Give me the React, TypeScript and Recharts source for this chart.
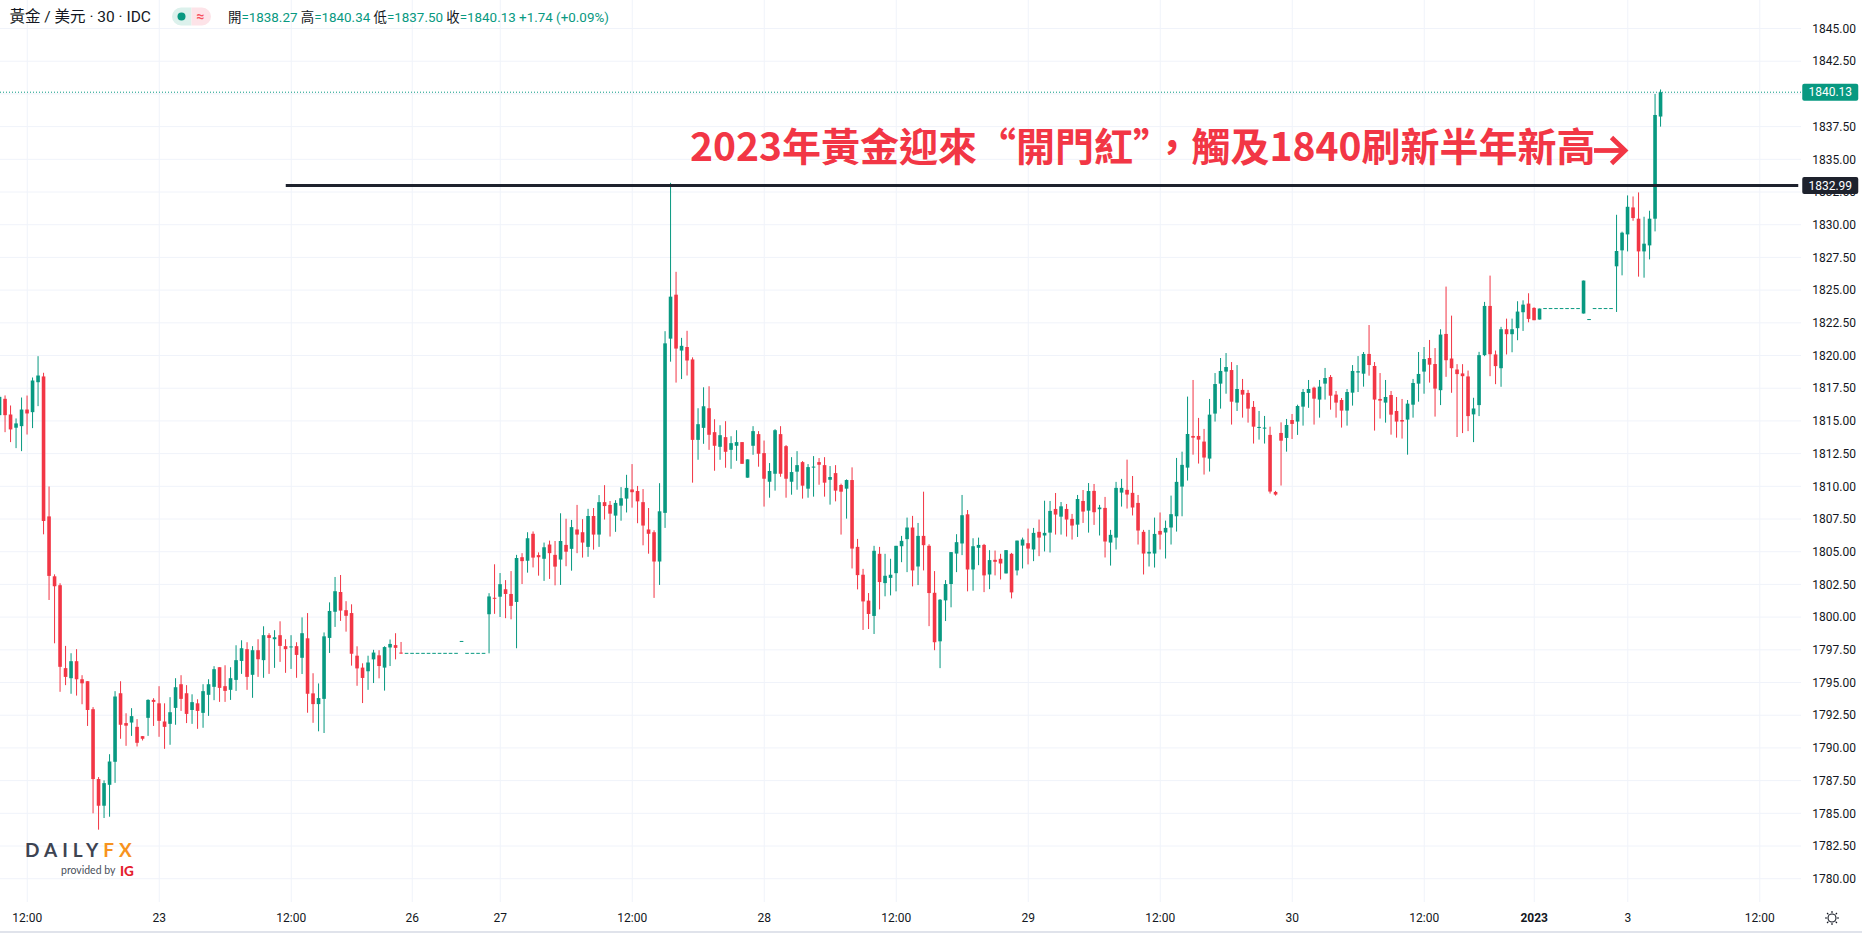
import React from 'react';
import { ComposedChart, Bar, XAxis, YAxis, CartesianGrid, ReferenceLine } from 'recharts';

const UP = '#089981';
const DOWN = '#f23645';
const INK = '#131722';
const GRID = '#f0f3fa';
const LINE = '#1e222d';
const FONT = "Roboto, 'Noto Sans CJK TC', sans-serif";
const CJK = "'Noto Sans CJK TC', 'Noto Sans CJK SC', sans-serif";

// 30-minute candles: [open, high, low, close]
type Ohlc = [number, number, number, number];

const dec22: Ohlc[] = [
  [1815.44, 1817.0, 1815.2, 1816.84],
  [1816.69, 1816.95, 1814.14, 1815.44],
  [1815.49, 1816.18, 1813.38, 1814.35],
  [1814.48, 1815.19, 1812.92, 1814.81],
  [1814.6, 1816.79, 1812.69, 1815.87],
  [1815.87, 1816.94, 1813.96, 1815.57],
  [1815.67, 1818.32, 1814.45, 1818.09],
  [1817.96, 1819.95, 1816.13, 1818.47],
  [1818.4, 1818.68, 1806.33, 1807.35],
  [1807.7, 1809.99, 1801.31, 1803.15],
  [1803.12, 1803.27, 1798.0, 1802.36],
  [1802.44, 1802.59, 1794.29, 1796.2],
  [1796.1, 1797.8, 1794.8, 1795.43],
  [1795.33, 1797.24, 1794.14, 1796.63],
  [1796.63, 1797.55, 1794.0, 1795.25],
  [1795.25, 1795.56, 1793.34, 1794.94],
  [1795.1, 1795.1, 1791.68, 1792.9],
  [1792.96, 1793.12, 1785.0, 1787.62],
  [1787.62, 1787.77, 1783.75, 1785.58],
  [1785.58, 1787.52, 1784.64, 1787.31],
  [1787.18, 1789.52, 1784.74, 1788.96],
  [1788.94, 1794.34, 1787.33, 1793.93],
  [1794.18, 1795.1, 1790.7, 1791.77],
  [1791.9, 1792.65, 1790.16, 1791.7],
  [1791.94, 1793.04, 1790.92, 1792.43],
  [1791.61, 1792.2, 1790.11, 1790.39],
  [1790.9, 1790.9, 1790.57, 1790.7],
  [1792.3, 1793.72, 1790.92, 1793.67],
  [1793.67, 1793.8, 1791.68, 1793.52],
];

const dec23: Ohlc[] = [
  [1793.41, 1794.72, 1790.85, 1792.07],
  [1792.02, 1793.41, 1789.93, 1791.61],
  [1791.84, 1793.88, 1790.24, 1792.73],
  [1793.06, 1795.33, 1791.77, 1794.64],
  [1794.87, 1795.56, 1792.83, 1793.75],
  [1794.18, 1794.8, 1791.9, 1792.6],
  [1792.9, 1794.1, 1791.84, 1793.5],
  [1793.41, 1793.72, 1791.46, 1792.83],
  [1792.68, 1794.87, 1791.54, 1794.34],
  [1794.06, 1795.25, 1792.45, 1794.87],
  [1794.67, 1796.25, 1793.65, 1796.02],
  [1796.17, 1796.17, 1793.52, 1794.59],
  [1794.72, 1796.32, 1793.52, 1794.36],
  [1794.44, 1796.17, 1793.67, 1795.33],
  [1795.2, 1797.85, 1794.36, 1796.71],
  [1796.65, 1798.23, 1795.66, 1797.62],
  [1797.55, 1798.08, 1794.44, 1795.43],
  [1795.59, 1797.78, 1793.83, 1797.47],
  [1797.47, 1798.31, 1795.43, 1796.78],
  [1796.71, 1799.3, 1795.36, 1798.62],
  [1798.62, 1798.77, 1795.66, 1798.41],
  [1798.31, 1799.0, 1796.12, 1798.46],
  [1798.62, 1799.68, 1796.58, 1797.8],
  [1797.78, 1798.31, 1795.74, 1797.55],
  [1797.68, 1798.62, 1796.04, 1797.72],
  [1797.78, 1798.08, 1795.36, 1797.11],
  [1796.89, 1799.98, 1795.65, 1798.77],
  [1798.38, 1800.31, 1792.69, 1794.14],
  [1794.17, 1795.71, 1791.92, 1793.35],
  [1793.35, 1794.93, 1791.27, 1793.81],
  [1793.75, 1798.83, 1791.14, 1798.53],
  [1798.41, 1801.13, 1797.26, 1800.47],
  [1800.41, 1803.07, 1799.25, 1801.98],
  [1801.92, 1803.22, 1799.71, 1800.5],
  [1800.53, 1801.22, 1798.89, 1800.1],
  [1800.31, 1800.98, 1796.29, 1797.2],
  [1797.05, 1797.77, 1794.75, 1796.08],
  [1796.14, 1796.47, 1793.43, 1795.35],
  [1795.86, 1797.05, 1794.44, 1796.53],
  [1796.77, 1797.5, 1794.96, 1797.29],
  [1797.08, 1797.47, 1795.32, 1796.26],
  [1796.14, 1797.77, 1794.38, 1797.71],
  [1797.68, 1798.29, 1796.26, 1797.95],
  [1797.86, 1798.77, 1796.77, 1797.65],
  [1797.25, 1798.1, 1797.2, 1797.2],
  [1797.23, 1797.23, 1797.23, 1797.23],
];

// holiday session, mostly flat prints
const dec26: Ohlc[] = [
  [1797.23, 1797.23, 1797.23, 1797.23],
  [1797.23, 1797.23, 1797.23, 1797.23],
  [1797.23, 1797.23, 1797.23, 1797.23],
  [1797.23, 1797.23, 1797.23, 1797.23],
  [1797.23, 1797.23, 1797.23, 1797.23],
  [1797.23, 1797.23, 1797.23, 1797.23],
  [1797.23, 1797.23, 1797.23, 1797.23],
  [1797.23, 1797.23, 1797.23, 1797.23],
  [1797.23, 1797.23, 1797.23, 1797.23],
  [1798.14, 1798.14, 1798.14, 1798.14],
  [1797.23, 1797.23, 1797.23, 1797.23],
  [1797.23, 1797.23, 1797.23, 1797.23],
  [1797.23, 1797.23, 1797.23, 1797.23],
  [1797.23, 1797.23, 1797.23, 1797.23],
  [1800.22, 1801.83, 1797.23, 1801.58],
  [1801.44, 1804.04, 1800.25, 1801.38],
];

const dec27: Ohlc[] = [
  [1801.56, 1803.37, 1800.01, 1802.52],
  [1802.13, 1802.83, 1799.92, 1801.77],
  [1801.77, 1803.52, 1799.83, 1800.86],
  [1801.16, 1804.76, 1797.62, 1804.52],
  [1804.58, 1804.89, 1802.53, 1804.28],
  [1804.31, 1806.49, 1803.4, 1806.03],
  [1806.37, 1806.55, 1803.8, 1804.55],
  [1804.74, 1804.95, 1803.17, 1804.58],
  [1804.46, 1805.7, 1802.77, 1805.34],
  [1805.55, 1805.85, 1802.92, 1804.89],
  [1804.76, 1805.82, 1802.43, 1803.86],
  [1804.4, 1807.94, 1802.46, 1805.82],
  [1805.52, 1807.52, 1803.89, 1805.0],
  [1805.22, 1807.43, 1803.55, 1806.88],
  [1806.7, 1808.58, 1804.89, 1806.31],
  [1806.49, 1807.49, 1804.55, 1805.7],
  [1805.37, 1808.28, 1804.61, 1807.73],
  [1807.73, 1808.34, 1805.16, 1806.31],
  [1806.31, 1809.33, 1805.37, 1808.79],
  [1808.79, 1810.09, 1807.46, 1808.49],
  [1808.58, 1808.88, 1806.16, 1807.91],
  [1807.76, 1808.94, 1806.52, 1808.73],
  [1808.52, 1809.94, 1807.37, 1809.09],
  [1809.06, 1810.88, 1808.0, 1809.88],
  [1809.76, 1811.7, 1808.37, 1809.55],
  [1809.64, 1810.03, 1807.18, 1808.85],
  [1808.79, 1809.79, 1805.49, 1807.0],
  [1806.7, 1808.34, 1804.85, 1806.37],
  [1806.49, 1806.64, 1801.47, 1804.25],
  [1804.25, 1810.24, 1802.46, 1808.09],
  [1807.97, 1821.86, 1806.82, 1820.93],
  [1821.29, 1833.2, 1819.53, 1824.5],
  [1824.65, 1826.4, 1817.93, 1820.53],
  [1820.38, 1821.35, 1818.2, 1820.74],
  [1820.65, 1821.89, 1818.47, 1819.62],
  [1819.7, 1819.86, 1810.28, 1813.55],
  [1813.55, 1815.97, 1812.03, 1814.75],
  [1814.47, 1817.57, 1813.25, 1816.12],
  [1815.97, 1817.65, 1812.79, 1813.94],
  [1814.14, 1815.13, 1811.19, 1813.1],
  [1813.02, 1814.67, 1812.03, 1813.91],
  [1813.76, 1814.98, 1811.42, 1812.64],
  [1812.79, 1813.83, 1811.34, 1813.3],
  [1813.1, 1814.29, 1811.95, 1813.38],
  [1813.38, 1813.38, 1811.72, 1811.72],
  [1810.66, 1812.06, 1810.66, 1812.06],
  [1813.1, 1814.6, 1812.41, 1814.22],
  [1813.99, 1814.22, 1811.5, 1812.49],
];

const dec28: Ohlc[] = [
  [1812.54, 1813.5, 1808.45, 1810.58],
  [1810.35, 1811.78, 1809.13, 1811.17],
  [1810.96, 1814.37, 1809.67, 1814.29],
  [1813.99, 1814.6, 1810.73, 1810.96],
  [1813.07, 1813.15, 1809.13, 1810.58],
  [1810.35, 1812.23, 1809.36, 1811.09],
  [1811.12, 1812.69, 1809.74, 1811.62],
  [1811.85, 1811.93, 1809.06, 1810.05],
  [1809.82, 1811.7, 1809.13, 1811.47],
  [1811.4, 1812.31, 1809.21, 1811.47],
  [1811.85, 1812.16, 1810.12, 1811.65],
  [1811.62, 1812.23, 1809.21, 1810.28],
  [1810.5, 1811.55, 1808.6, 1810.71],
  [1811.01, 1811.62, 1808.85, 1809.67],
  [1810.1, 1810.2, 1806.31, 1809.59],
  [1809.82, 1810.53, 1807.53, 1810.48],
  [1810.48, 1811.45, 1803.72, 1805.24],
  [1805.37, 1805.98, 1802.12, 1803.21],
  [1803.24, 1803.69, 1799.02, 1801.2],
  [1801.26, 1801.84, 1799.09, 1800.24],
  [1800.09, 1805.45, 1798.71, 1805.07],
  [1804.84, 1805.37, 1800.59, 1802.68],
  [1802.6, 1804.84, 1801.59, 1803.16],
  [1803.0, 1804.46, 1801.66, 1803.24],
  [1803.36, 1805.45, 1801.97, 1805.45],
  [1805.42, 1806.21, 1804.2, 1805.83],
  [1805.96, 1807.61, 1803.44, 1806.85],
  [1806.85, 1807.74, 1802.35, 1803.57],
  [1803.87, 1807.2, 1802.45, 1806.21],
  [1806.21, 1809.59, 1803.57, 1805.5],
  [1805.45, 1805.57, 1799.31, 1801.84],
  [1801.86, 1803.52, 1797.47, 1798.08],
  [1798.15, 1801.38, 1796.1, 1801.33],
  [1801.28, 1802.83, 1799.7, 1802.53],
  [1802.53, 1804.97, 1800.75, 1804.97],
  [1804.86, 1806.34, 1803.44, 1805.73],
  [1805.63, 1809.34, 1804.74, 1807.79],
  [1807.86, 1808.19, 1801.97, 1803.64],
  [1803.64, 1806.03, 1802.02, 1805.42],
  [1805.3, 1806.08, 1803.97, 1805.52],
  [1805.52, 1805.6, 1801.91, 1803.19],
  [1803.26, 1805.12, 1802.14, 1804.36],
  [1804.38, 1805.09, 1803.19, 1804.23],
  [1804.46, 1804.84, 1802.88, 1804.1],
  [1803.34, 1805.12, 1803.34, 1805.12],
  [1804.84, 1804.91, 1801.43, 1801.89],
  [1803.57, 1805.85, 1803.19, 1805.85],
  [1805.47, 1806.08, 1803.72, 1805.93],
];

const dec29: Ohlc[] = [
  [1805.65, 1806.77, 1804.03, 1805.24],
  [1805.17, 1806.82, 1804.28, 1806.44],
  [1806.52, 1807.46, 1804.66, 1806.08],
  [1806.24, 1808.9, 1805.02, 1806.44],
  [1806.46, 1808.88, 1804.94, 1808.12],
  [1808.27, 1809.49, 1806.31, 1807.84],
  [1807.68, 1808.8, 1806.31, 1808.47],
  [1808.27, 1808.65, 1806.16, 1807.46],
  [1807.51, 1807.89, 1805.93, 1807.0],
  [1807.07, 1809.34, 1806.13, 1809.03],
  [1808.88, 1809.72, 1807.2, 1808.07],
  [1808.14, 1810.25, 1806.46, 1809.64],
  [1809.65, 1810.18, 1807.05, 1808.02],
  [1808.25, 1808.58, 1806.24, 1808.38],
  [1808.35, 1809.19, 1804.56, 1805.78],
  [1805.7, 1806.67, 1803.94, 1806.29],
  [1806.08, 1810.34, 1805.17, 1809.88],
  [1809.52, 1810.57, 1808.45, 1809.88],
  [1809.73, 1812.04, 1808.3, 1809.37],
  [1809.5, 1810.79, 1807.77, 1808.38],
  [1808.73, 1809.34, 1805.55, 1806.62],
  [1806.52, 1806.67, 1803.26, 1804.86],
  [1804.86, 1806.67, 1803.87, 1804.99],
  [1804.86, 1807.61, 1803.79, 1806.36],
  [1806.59, 1808.0, 1805.17, 1806.31],
  [1806.47, 1807.38, 1804.48, 1806.82],
  [1806.85, 1809.29, 1805.55, 1807.87],
  [1807.71, 1812.17, 1806.54, 1810.34],
  [1809.98, 1812.65, 1807.71, 1811.64],
  [1811.43, 1816.86, 1810.44, 1814.0],
  [1813.85, 1818.13, 1812.42, 1813.72],
  [1813.85, 1815.23, 1811.74, 1813.57],
  [1813.42, 1814.39, 1810.9, 1812.2],
  [1812.12, 1816.68, 1811.13, 1815.48],
  [1815.56, 1818.66, 1814.95, 1817.82],
  [1817.85, 1819.81, 1815.94, 1818.82],
  [1818.77, 1820.19, 1817.08, 1819.12],
  [1818.89, 1819.5, 1814.72, 1816.47],
  [1816.4, 1819.27, 1815.76, 1817.44],
  [1817.37, 1818.21, 1815.25, 1817.01],
  [1817.14, 1817.37, 1814.87, 1815.94],
  [1816.07, 1816.52, 1813.27, 1814.56],
  [1814.46, 1815.76, 1813.57, 1814.54],
  [1814.41, 1815.38, 1813.27, 1814.49],
  [1813.93, 1814.56, 1809.45, 1809.6],
  [1809.57, 1809.65, 1809.29, 1809.37],
  [1814.08, 1814.89, 1810.06, 1813.49],
  [1813.7, 1815.15, 1812.65, 1814.69],
];

const dec30: Ohlc[] = [
  [1815.07, 1815.53, 1813.62, 1814.77],
  [1814.95, 1816.24, 1813.93, 1816.14],
  [1816.09, 1817.44, 1814.64, 1817.21],
  [1817.14, 1818.13, 1816.0, 1817.44],
  [1817.54, 1817.62, 1814.72, 1816.7],
  [1816.63, 1818.13, 1815.25, 1817.62],
  [1817.85, 1819.05, 1816.63, 1818.28],
  [1818.36, 1818.51, 1815.86, 1816.93],
  [1817.01, 1817.29, 1815.25, 1816.4],
  [1816.6, 1816.75, 1814.49, 1815.79],
  [1815.79, 1817.44, 1814.64, 1817.21],
  [1817.16, 1819.27, 1816.17, 1818.82],
  [1818.7, 1819.96, 1817.21, 1818.8],
  [1818.61, 1820.27, 1817.62, 1820.12],
  [1820.12, 1822.33, 1818.46, 1819.27],
  [1819.2, 1819.5, 1814.26, 1816.63],
  [1816.68, 1818.66, 1815.18, 1816.55],
  [1816.4, 1818.13, 1814.87, 1816.83],
  [1816.98, 1817.29, 1813.95, 1815.48],
  [1815.76, 1816.83, 1813.72, 1814.95],
  [1815.07, 1816.68, 1813.65, 1814.95],
  [1815.1, 1816.6, 1812.42, 1816.32],
  [1816.24, 1818.21, 1815.25, 1817.9],
  [1817.85, 1820.27, 1816.47, 1818.59],
  [1818.77, 1820.65, 1817.08, 1819.73],
  [1819.81, 1821.19, 1817.93, 1819.3],
  [1819.35, 1820.57, 1815.33, 1817.47],
  [1817.35, 1822.01, 1816.21, 1821.6],
  [1821.65, 1825.27, 1818.37, 1819.64],
  [1819.77, 1823.05, 1817.15, 1819.03],
  [1818.93, 1819.34, 1813.77, 1818.58],
  [1818.63, 1819.34, 1814.07, 1818.42],
  [1818.4, 1818.85, 1814.22, 1815.37],
  [1815.5, 1816.77, 1813.38, 1815.95],
  [1816.21, 1820.28, 1815.37, 1820.03],
  [1820.03, 1824.1, 1819.95, 1823.79],
  [1823.79, 1826.11, 1818.42, 1820.1],
  [1820.08, 1820.38, 1817.81, 1819.19],
  [1819.03, 1822.19, 1817.61, 1822.01],
  [1822.01, 1822.82, 1820.08, 1821.63],
  [1821.63, 1822.82, 1820.25, 1822.01],
  [1822.09, 1824.15, 1821.17, 1823.36],
  [1823.31, 1824.22, 1821.88, 1823.89],
  [1823.97, 1824.76, 1822.54, 1822.8],
];

// 2 January holiday, thin trade
const jan02: Ohlc[] = [
  [1823.64, 1823.69, 1822.7, 1822.7],
  [1822.75, 1823.59, 1822.75, 1823.59],
  [1823.59, 1823.59, 1823.59, 1823.59],
  [1823.59, 1823.59, 1823.59, 1823.59],
  [1823.59, 1823.59, 1823.59, 1823.59],
  [1823.59, 1823.59, 1823.59, 1823.59],
  [1823.59, 1823.59, 1823.59, 1823.59],
  [1823.59, 1823.59, 1823.59, 1823.59],
  [1823.59, 1823.59, 1823.59, 1823.59],
  [1823.21, 1825.73, 1823.21, 1825.73],
  [1822.75, 1822.75, 1822.75, 1822.75],
  [1823.59, 1823.59, 1823.59, 1823.59],
  [1823.59, 1823.59, 1823.59, 1823.59],
  [1823.59, 1823.59, 1823.59, 1823.59],
  [1823.59, 1823.59, 1823.59, 1823.59],
  [1826.82, 1830.76, 1823.33, 1827.99],
  [1828.04, 1829.47, 1826.13, 1829.39],
];

const jan03: Ohlc[] = [
  [1829.26, 1832.24, 1827.96, 1831.37],
  [1831.32, 1832.16, 1830.3, 1830.51],
  [1830.46, 1832.47, 1826.03, 1827.96],
  [1827.96, 1830.61, 1825.95, 1828.55],
  [1828.42, 1831.07, 1827.35, 1830.46],
  [1830.46, 1840.0, 1829.49, 1838.39],
  [1838.27, 1840.34, 1837.5, 1840.13],
];

const X_TICKS = [5, 29, 53, 75, 91, 115, 139, 163, 187, 211, 235, 259, 279, 296, 320];
const X_LABELS = ['12:00', '23', '12:00', '26', '27', '12:00', '28', '12:00', '29', '12:00', '30', '12:00', '2023', '3', '12:00'];
const Y_TICKS = [
  1780, 1782.5, 1785, 1787.5, 1790, 1792.5, 1795, 1797.5, 1800, 1802.5, 1805, 1807.5, 1810, 1812.5,
  1815, 1817.5, 1820, 1822.5, 1825, 1827.5, 1830, 1832.5, 1835, 1837.5, 1840, 1842.5, 1845,
];
const RESISTANCE = 1832.99;

const SLOTS = 328; // includes empty space to the right of the last bar
const PLOT_RIGHT = 1804;
const BODY = 3.6;

const candles = [...dec22, ...dec23, ...dec26, ...dec27, ...dec28, ...dec29, ...dec30, ...jan02, ...jan03];
const data = Array.from({ length: SLOTS }, (_, i) => {
  const k = candles[i];
  return k ? { i, o: k[0], h: k[1], l: k[2], c: k[3] } : { i };
});

const last = candles[candles.length - 1];
const prevClose = candles[candles.length - 2][3];
const change = last[3] - prevClose;

// price tags drawn last on the axis so they sit over the regular labels
const TAGS = [
  { value: RESISTANCE, bg: LINE },
  { value: last[3], bg: UP },
];
const AXIS_TICKS = [...Y_TICKS, ...TAGS.map((t) => t.value)];

function Candle(props: any) {
  const { x, y, width, height, payload } = props;
  if (!payload || payload.h === undefined) return null;
  const { o, h, l, c } = payload;
  const color = c >= o ? UP : DOWN;
  const top = Math.min(y, y + height);
  const hh = Math.abs(height);
  const cx = x + width / 2;
  const span = h - l;
  const py = (v: number) => (span > 0 ? top + ((h - v) / span) * hh : top);
  const bTop = py(Math.max(o, c));
  const bBot = py(Math.min(o, c));
  return (
    <g>
      {hh > 0 && <rect x={cx - 0.5} y={top} width={1} height={hh} fill={color} />}
      <rect x={cx - BODY / 2} y={bTop - (bBot - bTop < 1 ? 0.5 : 0)} width={BODY} height={Math.max(bBot - bTop, 1)} fill={color} />
    </g>
  );
}

function YTick(props: any) {
  const { y, payload } = props;
  const v = Number(payload.value);
  const tag = TAGS.find((t) => t.value === v);
  if (tag) {
    return (
      <g>
        <rect x={PLOT_RIGHT + 1.25} y={y - 8.5} width={56} height={17} rx={2} fill={tag.bg} />
        <text x={PLOT_RIGHT + 29.25} y={y} dy={4.2} textAnchor="middle" fontSize={12} fill="#ffffff" fontFamily={FONT}>
          {v.toFixed(2)}
        </text>
      </g>
    );
  }
  // a label fully hidden behind a tag is not drawn
  if (TAGS.some((t) => Math.abs(t.value - v) < 0.3)) return null;
  return (
    <text x={1815.25} y={y} dy={4.2} fontSize={12} fill={INK} fontFamily={FONT}>
      {v.toFixed(2)}
    </text>
  );
}

function XTick(props: any) {
  const { x, payload } = props;
  const label = X_LABELS[X_TICKS.indexOf(payload.value)];
  return (
    <text x={x} y={922} textAnchor="middle" fontSize={12} fontWeight={label === '2023' ? 700 : 400} fill={INK} fontFamily={FONT}>
      {label}
    </text>
  );
}

export default function App() {
  const fmt = (v: number) => v.toFixed(2);
  const sign = change >= 0 ? '+' : '';
  return (
    <div style={{ position: 'absolute', left: 0, top: 0, width: 1862, height: 933, overflow: 'hidden', background: '#ffffff' }}>
      <div style={{ position: 'absolute', left: -3.25, top: 0 }}>
        <ComposedChart width={1866} height={933} data={data} margin={{ top: 0, right: 0, bottom: 0, left: 0 }}>
          <CartesianGrid stroke={GRID} syncWithTicks horizontalValues={Y_TICKS} />
          <XAxis dataKey="i" ticks={X_TICKS} interval={0} axisLine={false} tickLine={false} height={31} tick={(p: any) => <XTick {...p} />} />
          <YAxis
            orientation="right"
            type="number"
            domain={[1778.22, 1847.18]}
            allowDataOverflow
            ticks={AXIS_TICKS}
            interval={0}
            axisLine={false}
            tickLine={false}
            width={62}
            tick={(p: any) => <YTick {...p} />}
          />
          <Bar dataKey={(d: any) => (d.h === undefined ? null : [d.l, d.h])} shape={(p: any) => <Candle {...p} />} isAnimationActive={false} />
          <ReferenceLine y={last[3]} stroke={UP} strokeDasharray="1 2" />
          <ReferenceLine segment={[{ x: 52, y: RESISTANCE }, { x: SLOTS - 1, y: RESISTANCE }]} stroke={LINE} strokeWidth={3} />
        </ComposedChart>
      </div>
      <svg width={1862} height={933} style={{ position: 'absolute', left: 0, top: 0, pointerEvents: 'none' }}>
        <text x={9.5} y={22} fontSize={15.5} fill={INK} fontFamily={FONT}>黃金 / 美元 · 30 · IDC</text>
        <path d="M181 7.5 H191.5 V25.5 H181 A9 9 0 0 1 181 7.5 Z" fill="#dcf1ec" />
        <path d="M191.5 7.5 H202 A9 9 0 0 1 202 25.5 H191.5 Z" fill="#fde3e8" />
        <circle cx={181.5} cy={16.5} r={4} fill={UP} />
        <text x={200.5} y={21} textAnchor="middle" fontSize={14} fontWeight={700} fill="#f7525f" fontFamily={FONT}>≈</text>
        <text x={228} y={21.5} fontSize={13.4} fontFamily={FONT} fill={UP}>
          <tspan fill={INK}>開</tspan>={fmt(last[0])} <tspan fill={INK}>高</tspan>={fmt(last[1])} <tspan fill={INK}>低</tspan>={fmt(last[2])}{' '}
          <tspan fill={INK}>收</tspan>={fmt(last[3])} {sign}{fmt(change)} ({sign}{((change / prevClose) * 100).toFixed(2)}%)
        </text>
        <text x={690} y={161} fontSize={39} fontWeight={700} fill="#f23645" fontFamily={CJK}>
          2023年黃金迎來“開門紅”，觸及1840刷新半年新高
        </text>
        <g stroke="#f23645" strokeWidth={4.8} fill="none" strokeLinejoin="miter">
          <path d="M1594 150.5 H1623" />
          <path d="M1611.5 137.5 L1625 150.5 L1611.5 163.5" />
        </g>
        <text x={25} y={857} fontSize={19} fontWeight={700} letterSpacing={5} fontFamily="Lato, Roboto, sans-serif">
          <tspan fill="#3d4452">DAILY</tspan>
          <tspan fill="#f7931e">FX</tspan>
        </text>
        <text x={61} y={874} fontSize={10.5} fill="#4a4f5a" fontFamily="Lato, Roboto, sans-serif">provided by</text>
        <text x={120} y={875.5} fontSize={13.5} fontWeight={900} fill="#e4202e" fontFamily="Lato, Roboto, sans-serif">IG</text>
        <g transform="translate(1832 918)" stroke={INK} strokeWidth={1.1} fill="none">
          <circle r={4} />
          <path d="M0 -7 V-5 M0 5 V7 M-7 0 H-5 M5 0 H7 M-5 -5 L-3.6 -3.6 M3.6 3.6 L5 5 M-5 5 L-3.6 3.6 M3.6 -3.6 L5 -5" />
        </g>
        <rect x={0} y={931} width={1862} height={2} fill="#e0e3eb" />
      </svg>
    </div>
  );
}
